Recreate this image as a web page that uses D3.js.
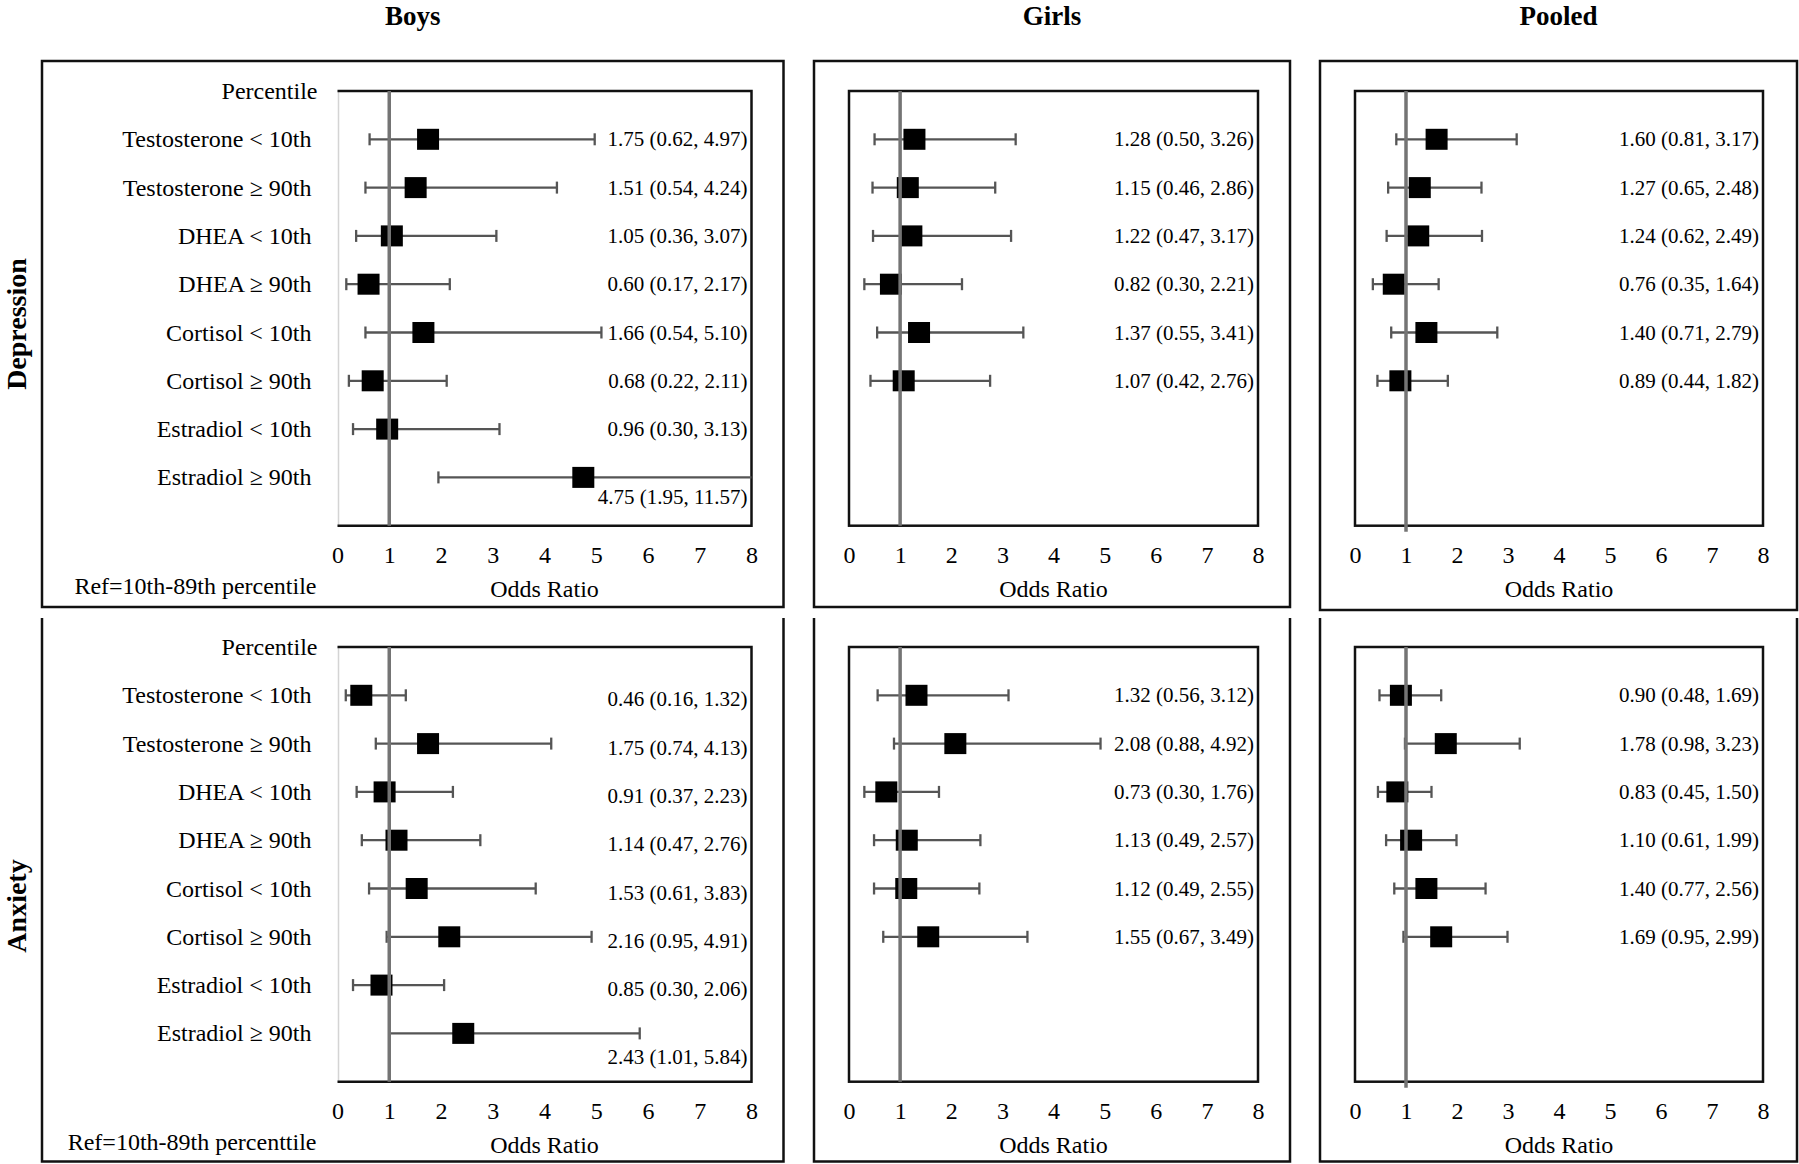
<!DOCTYPE html>
<html>
<head>
<meta charset="utf-8">
<script src="https://cdn.jsdelivr.net/npm/d3@7"></script>
<style>
  html, body { margin: 0; padding: 0; background: #fff; }
  svg { display: block; }
  text { font-family: "Liberation Serif", "Times New Roman", serif; fill: #000; }
</style>
</head>
<body>
<svg id="chart" width="1799" height="1164"></svg>
<script>
// ---------------- DATA ----------------
const groups = ["Boys", "Girls", "Pooled"];
const outcomes = ["Depression", "Anxiety"];
const rowLabels = [
  "Testosterone < 10th", "Testosterone \u2265 90th",
  "DHEA < 10th", "DHEA \u2265 90th",
  "Cortisol < 10th", "Cortisol \u2265 90th",
  "Estradiol < 10th", "Estradiol \u2265 90th"
];
const tickValues = [0, 1, 2, 3, 4, 5, 6, 7, 8];
const refValue = 1;

// [odds ratio, lower CI, upper CI]
const depBoys = [[1.75,0.62,4.97],[1.51,0.54,4.24],[1.05,0.36,3.07],[0.60,0.17,2.17],[1.66,0.54,5.10],[0.68,0.22,2.11],[0.96,0.30,3.13],[4.75,1.95,11.57]];
const depGirls = [[1.28,0.50,3.26],[1.15,0.46,2.86],[1.22,0.47,3.17],[0.82,0.30,2.21],[1.37,0.55,3.41],[1.07,0.42,2.76]];
const depPooled = [[1.60,0.81,3.17],[1.27,0.65,2.48],[1.24,0.62,2.49],[0.76,0.35,1.64],[1.40,0.71,2.79],[0.89,0.44,1.82]];
const anxBoys = [[0.46,0.16,1.32],[1.75,0.74,4.13],[0.91,0.37,2.23],[1.14,0.47,2.76],[1.53,0.61,3.83],[2.16,0.95,4.91],[0.85,0.30,2.06],[2.43,1.01,5.84]];
const anxGirls = [[1.32,0.56,3.12],[2.08,0.88,4.92],[0.73,0.30,1.76],[1.13,0.49,2.57],[1.12,0.49,2.55],[1.55,0.67,3.49]];
const anxPooled = [[0.90,0.48,1.69],[1.78,0.98,3.23],[0.83,0.45,1.50],[1.10,0.61,1.99],[1.40,0.77,2.56],[1.69,0.95,2.99]];

const refTexts = ["Ref=10th-89th percentile", "Ref=10th-89th percenttile"];
const panelData = [[depBoys, depGirls, depPooled], [anxBoys, anxGirls, anxPooled]];

// ---------------- LAYOUT ----------------
const svg = d3.select("#chart");
const cols = [
  { outer: [42, 783.5], inner: [337.5, 751.5] },
  { outer: [814, 1290], inner: [849, 1258] },
  { outer: [1320, 1797], inner: [1355, 1763] }
];
const rowsL = [
  { outerTop: 61, outerBottom: [607, 607, 610], innerTop: 91, hasTop: true, labelCy: 324 },
  { outerTop: 618, outerBottom: [1161.5, 1161.5, 1161.5], innerTop: 647, hasTop: false, labelCy: 906 }
];
const step = 48.3;
const fmt = d3.format(".2f");

// Column titles
groups.forEach((g, ci) => {
  svg.append("text")
    .attr("x", (cols[ci].outer[0] + cols[ci].outer[1]) / 2)
    .attr("y", 25)
    .attr("text-anchor", "middle")
    .attr("font-size", 27).attr("font-weight", "bold")
    .text(g);
});

// Row titles
outcomes.forEach((o, ri) => {
  svg.append("text")
    .attr("transform", `translate(16,${rowsL[ri].labelCy}) rotate(-90)`)
    .attr("text-anchor", "middle")
    .attr("dominant-baseline", "central")
    .attr("font-size", 28).attr("font-weight", "bold")
    .text(o);
});

outcomes.forEach((o, ri) => {
  const R = rowsL[ri];
  const innerBottom = R.innerTop + 9 * step;
  const slots = ["Percentile", ...rowLabels, "_end"];
  const y = d3.scalePoint().domain(slots).range([R.innerTop, innerBottom]);

  groups.forEach((g, ci) => {
    const C = cols[ci];
    const data = panelData[ri][ci];
    const x = d3.scaleLinear().domain([0, 8]).range(C.inner);
    const gP = svg.append("g");

    // outer box
    const ob = R.outerBottom[ci];
    if (R.hasTop) {
      gP.append("rect")
        .attr("x", C.outer[0]).attr("y", R.outerTop)
        .attr("width", C.outer[1] - C.outer[0]).attr("height", ob - R.outerTop)
        .attr("fill", "none").attr("stroke", "#111").attr("stroke-width", 2.5);
    } else {
      gP.append("path")
        .attr("d", `M${C.outer[0]},${R.outerTop}V${ob}H${C.outer[1]}V${R.outerTop}`)
        .attr("fill", "none").attr("stroke", "#111").attr("stroke-width", 2.5);
    }

    // inner plot box
    const x0 = x(0), x8 = x(8);
    if (ci === 0) {
      gP.append("line")
        .attr("x1", x0 + 1).attr("x2", x0 + 1)
        .attr("y1", R.innerTop).attr("y2", innerBottom)
        .attr("stroke", "#d4d4d4").attr("stroke-width", 1.5);
      gP.append("path")
        .attr("d", `M${x0},${R.innerTop}H${x8}V${innerBottom}H${x0}`)
        .attr("fill", "none").attr("stroke", "#111").attr("stroke-width", 2.5);
    } else {
      gP.append("rect")
        .attr("x", x0).attr("y", R.innerTop)
        .attr("width", x8 - x0).attr("height", innerBottom - R.innerTop)
        .attr("fill", "none").attr("stroke", "#111").attr("stroke-width", 2.5);
    }

    // x axis
    const axis = d3.axisBottom(x).tickValues(tickValues).tickSize(0).tickPadding(20).tickFormat(d3.format("d"));
    const ax = gP.append("g").attr("transform", `translate(0,${innerBottom})`).call(axis);
    ax.select(".domain").remove();
    ax.selectAll("text")
      .attr("font-family", "Liberation Serif, Times New Roman, serif")
      .attr("font-size", 24).attr("fill", "#000");

    gP.append("text")
      .attr("x", (x0 + x8) / 2).attr("y", innerBottom + 63)
      .attr("text-anchor", "middle").attr("dominant-baseline", "central")
      .attr("font-size", 24).text("Odds Ratio");

    // left labels (boys panels only)
    if (ci === 0) {
      gP.append("text")
        .attr("x", x0 - 20).attr("y", y("Percentile"))
        .attr("text-anchor", "end").attr("dominant-baseline", "central")
        .attr("font-size", 24).text("Percentile");
      rowLabels.forEach(lbl => {
        gP.append("text")
          .attr("x", x0 - 26).attr("y", y(lbl))
          .attr("text-anchor", "end").attr("dominant-baseline", "central")
          .attr("font-size", 24).text(lbl);
      });
      gP.append("text")
        .attr("x", x0 - 21).attr("y", innerBottom + 60)
        .attr("text-anchor", "end").attr("dominant-baseline", "central")
        .attr("font-size", 24).text(refTexts[ri]);
    }

    // whiskers
    data.forEach((d, i) => {
      const cy = y(rowLabels[i]);
      const lo = Math.max(d[1], 0), hi = Math.min(d[2], 8);
      gP.append("line")
        .attr("x1", x(lo)).attr("x2", x(hi)).attr("y1", cy).attr("y2", cy)
        .attr("stroke", "#555").attr("stroke-width", 2.3);
      [d[1], d[2]].forEach(v => {
        if (v <= 8) {
          gP.append("line")
            .attr("x1", x(v)).attr("x2", x(v)).attr("y1", cy - 6).attr("y2", cy + 6)
            .attr("stroke", "#555").attr("stroke-width", 2.3);
        }
      });
    });

    // markers
    data.forEach((d, i) => {
      const cy = y(rowLabels[i]);
      gP.append("rect")
        .attr("x", x(d[0]) - 11).attr("y", cy - 10.5)
        .attr("width", 22).attr("height", 21)
        .attr("fill", "#000");
    });

    // reference line at OR = 1
    gP.append("line")
      .attr("x1", x(refValue)).attr("x2", x(refValue))
      .attr("y1", R.innerTop).attr("y2", innerBottom + (ci === 2 ? 6 : 0))
      .attr("stroke", "#747474").attr("stroke-width", 3.5);

    // estimate labels
    data.forEach((d, i) => {
      let cy = y(rowLabels[i]);
      if (ci === 0 && ri === 1) cy += 4;
      if (i === 7) cy += 20;
      gP.append("text")
        .attr("x", x8 - 4).attr("y", cy)
        .attr("text-anchor", "end").attr("dominant-baseline", "central")
        .attr("font-size", 21)
        .text(`${fmt(d[0])} (${fmt(d[1])}, ${fmt(d[2])})`);
    });
  });
});
</script>
</body>
</html>
